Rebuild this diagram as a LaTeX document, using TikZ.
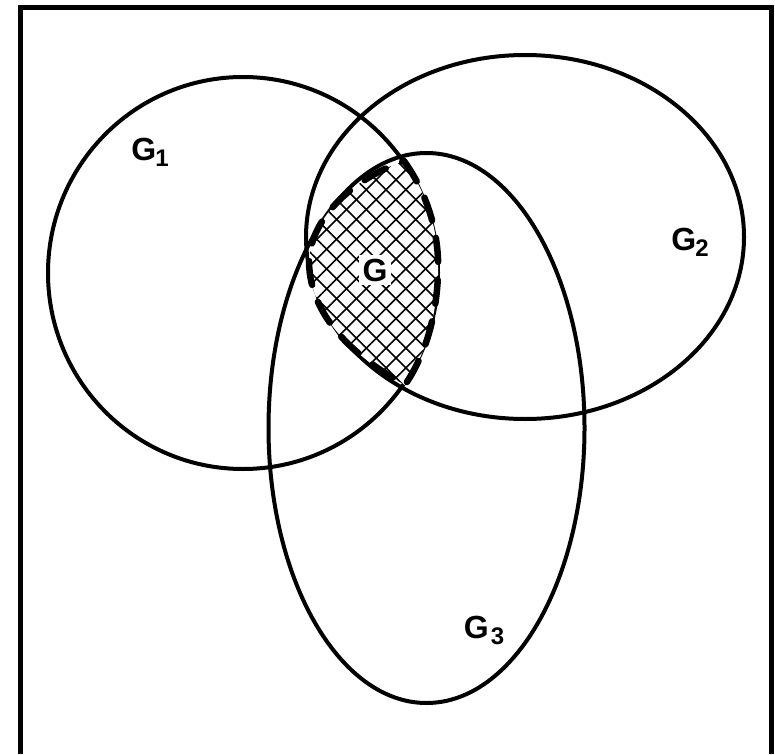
\documentclass[tikz,border=0pt]{standalone}
\usepackage{fontspec}
\setmainfont{Liberation Sans}
\usetikzlibrary{patterns.meta}
\newcommand{\subfont}{\fontsize{24}{24}\selectfont}
\tikzset{
  setline/.style={line width=4pt},
  frameline/.style={line width=5pt, line cap=butt, line join=miter},
  setname/.style={font=\fontsize{32}{34}\selectfont\bfseries, inner sep=1pt},
  hatch/.style={pattern={Lines[angle=#1, distance=14pt, line width=1.6pt]}},
  lensline/.style={line width=6.5pt, line cap=round, dash pattern=on 24pt off 18pt}
}
\begin{document}
\begin{tikzpicture}[x=1pt, y=-1pt, line cap=round, line join=round]
  \useasboundingbox (0,0) rectangle (775,754);
  % frame, open at the bottom
  \draw[frameline] (20.5,754) -- (20.5,7.5) -- (771,7.5) -- (771,754);
  % the three sets
  \path (243,273) coordinate (C_1)
        (525,237) coordinate (C_2)
        (426.5,428) coordinate (C_3);
  \draw[setline] (C_1) ellipse [x radius=195pt, y radius=196pt];
  \draw[setline] (C_2) ellipse [x radius=219pt, y radius=182pt];
  \draw[setline] (C_3) ellipse [x radius=158pt, y radius=275pt];
  % common part G
  \path[fill=white, postaction={hatch=45}, postaction={hatch=-45},
        postaction={draw, lensline}]
    (404,161) .. controls (425,190) and (440,230) .. (438,275)
    .. controls (436,320) and (425,355) .. (405,385)
    .. controls (360,360) and (310,320) .. (309,262)
    .. controls (310,220) and (350,180) .. (404,161) -- cycle;
  \node[setname, fill=white, inner sep=4pt] (G) at (375,270) {G};
  \foreach \k/\x/\y/\s in {1/150/152/-1, 2/690/242/-1, 3/484/630/2}
    \node[setname] (G_\k) at (\x,\y) {G\kern\s pt\raisebox{-6pt}{\subfont\k}};
\end{tikzpicture}
\end{document}
